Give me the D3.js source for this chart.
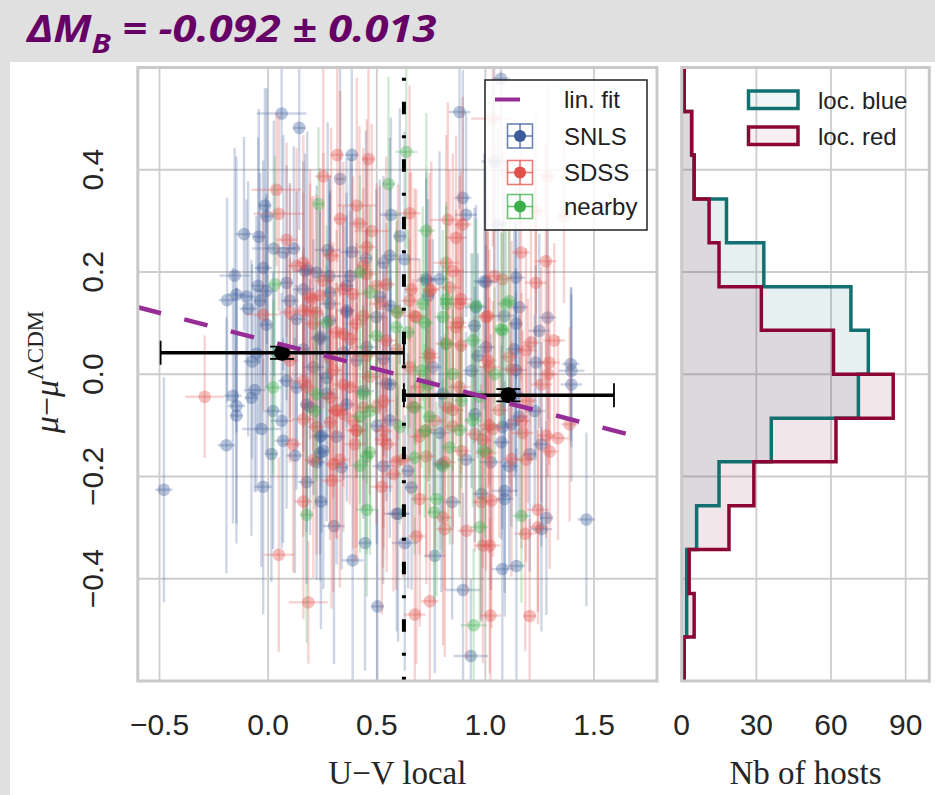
<!DOCTYPE html>
<html><head><meta charset="utf-8">
<script src="https://cdn.jsdelivr.net/npm/d3@7"></script>
<style>body{margin:0;background:#fff;} svg{display:block}</style>
</head><body><svg id="c" width="935" height="795"></svg>
<script>
// ---------------- DATA ----------------
const xTicks = [-0.5, 0.0, 0.5, 1.0, 1.5];
const yTicks = [-0.4, -0.2, 0.0, 0.2, 0.4];
const histTicks = [0, 30, 60, 90];
const seriesNames = ["SNLS", "SDSS", "nearby"];
// [U-V local, mu residual, x error, y error]
const snls = [
[0.062,0.510,0.115,0.15],[0.143,0.482,0.03,0.2],[0.385,0.429,0.03,0.19],[0.331,0.382,0.02,0.23],
[-0.015,0.330,0.03,0.23],[0.565,0.312,0.05,0.19],[-0.111,0.274,0.04,0.19],[-0.043,0.269,0.03,0.25],
[0.026,0.246,0.10,0.25],[0.118,0.246,0.03,0.2],[0.274,0.243,0.06,0.25],[0.385,0.239,0.05,0.19],
[-0.023,0.208,0.04,0.21],[-0.154,0.193,0.07,0.25],[0.180,0.205,0.04,0.27],[0.282,0.192,0.05,0.19],
[-0.189,0.145,0.04,0.2],[-0.146,0.156,0.04,0.27],[-0.100,0.152,0.04,0.19],[-0.046,0.173,0.03,0.29],
[-0.092,0.128,0.04,0.25],[-0.008,0.163,0.05,0.19],[-0.008,0.097,0.03,0.25],[-0.054,0.040,0.04,0.27],
[-0.074,0.025,0.04,0.19],[0.085,0.179,0.03,0.23],[0.223,0.199,0.04,0.17],[0.162,0.166,0.05,0.25],
[0.285,0.160,0.03,0.2],[0.377,0.192,0.06,0.23],[0.531,0.218,0.03,0.17],[0.131,0.108,0.04,0.25],
[0.362,0.121,0.03,0.19],[0.562,0.134,0.05,0.23],[0.238,0.069,0.04,0.25],[0.162,0.049,0.03,0.2],
[0.346,0.043,0.05,0.25],[0.531,0.030,0.03,0.19],[1.072,0.578,0.04,0.19],[0.881,0.513,0.05,0.19],
[1.041,0.416,0.06,0.23],[0.896,0.345,0.04,0.25],[0.911,0.312,0.05,0.2],[1.057,0.293,0.04,0.19],
[0.628,0.225,0.07,0.25],[0.728,0.187,0.04,0.21],[0.995,0.182,0.05,0.25],[0.736,0.153,0.03,0.19],
[1.087,0.114,0.05,0.25],[1.286,0.111,0.04,0.2],[0.950,0.095,0.03,0.23],[1.248,0.085,0.05,0.19],
[1.133,0.049,0.04,0.25],[0.965,0.036,0.03,0.2],[1.232,0.023,0.04,0.19],[1.393,0.020,0.04,0.15],
[0.606,0.270,0.03,0.25],[-0.162,-0.042,0.04,0.25],[-0.077,-0.046,0.03,0.27],[-0.062,-0.031,0.05,0.2],
[-0.146,-0.062,0.04,0.23],[-0.146,-0.081,0.03,0.25],[-0.031,-0.107,0.09,0.27],[-0.192,-0.139,0.04,0.25],
[0.085,-0.013,0.04,0.25],[0.131,-0.026,0.03,0.2],[0.023,-0.072,0.04,0.27],[0.062,-0.091,0.05,0.25],
[0.069,-0.130,0.04,0.2],[0.015,-0.156,0.03,0.25],[0.123,-0.159,0.04,0.23],[0.177,-0.059,0.03,0.25],
[0.246,-0.120,0.04,0.19],[0.254,-0.150,0.03,0.27],[0.223,-0.172,0.04,0.23],[0.338,-0.182,0.03,0.2],
[0.438,-0.033,0.05,0.25],[0.362,-0.059,0.04,0.19],[0.500,-0.101,0.03,0.23],[-0.023,-0.220,0.04,0.25],
[0.177,-0.211,0.04,0.2],[0.243,-0.249,0.03,0.25],[0.303,-0.297,0.05,0.27],[0.592,-0.273,0.06,0.23],
[0.446,-0.330,0.03,0.25],[0.389,-0.364,0.05,0.27],[0.503,-0.454,0.03,0.19],[-0.480,-0.226,0.04,0.22],
[0.562,-0.020,0.04,0.21],[0.269,-0.007,0.03,0.25],[1.396,0.007,0.06,0.15],[1.396,-0.020,0.05,0.19],
[1.258,-0.137,0.04,0.2],[1.465,-0.284,0.04,0.17],[1.281,-0.281,0.03,0.19],[1.258,-0.303,0.05,0.2],
[1.143,-0.375,0.04,0.23],[1.078,-0.381,0.05,0.25],[0.629,-0.330,0.06,0.25],[0.767,-0.355,0.05,0.23],
[0.897,-0.422,0.08,0.19],[0.933,-0.551,0.08,0.15],[0.598,-0.273,0.05,0.25],[0.847,-0.250,0.04,0.23],
[0.660,-0.221,0.03,0.2],[0.982,-0.234,0.04,0.25],[1.089,-0.228,0.06,0.2],[1.089,-0.244,0.04,0.23],
[1.025,-0.172,0.05,0.25],[0.644,-0.189,0.03,0.23],[1.074,-0.133,0.04,0.19],[1.204,-0.156,0.03,0.23],
[1.120,-0.098,0.04,0.2],[0.951,-0.078,0.03,0.25],[0.936,0.007,0.04,0.23],[1.227,-0.072,0.05,0.19],
[0.798,-0.176,0.04,0.25],[0.170,0.202,0.04,0.23],[0.361,0.173,0.03,0.25],[0.728,0.183,0.05,0.2],
[0.789,0.186,0.04,0.25],[1.003,0.180,0.05,0.23],[1.141,0.189,0.04,0.2],[0.284,0.138,0.05,0.25],
[0.514,0.151,0.03,0.23],[0.957,0.131,0.05,0.2],[1.156,0.131,0.04,0.25],[0.361,0.125,0.04,0.23],
[0.498,0.112,0.05,0.25],[1.141,0.099,0.03,0.2],[0.239,0.073,0.04,0.25],[0.453,0.053,0.05,0.23],
[1.003,0.053,0.04,0.2],[0.208,0.014,0.05,0.25],[0.407,0.027,0.03,0.23],[0.758,0.014,0.04,0.25],
[1.141,0.008,0.05,0.2],[0.269,-0.038,0.04,0.25],[0.544,-0.018,0.05,0.23],[0.804,-0.038,0.04,0.25],
[1.141,-0.038,0.03,0.2],[0.193,-0.064,0.04,0.25],[0.560,-0.090,0.05,0.23],[1.156,-0.083,0.04,0.2],
[0.315,-0.122,0.04,0.25],[0.789,-0.115,0.05,0.23],[1.079,-0.103,0.04,0.2],[0.239,-0.154,0.03,0.25],
[0.529,-0.180,0.05,0.23],[0.911,-0.167,0.04,0.25],[1.110,-0.180,0.04,0.2],
[-0.006,0.309,0.03,0.25],[0.070,0.238,0.04,0.23],[0.450,0.227,0.03,0.25],[0.560,0.232,0.04,0.23],
[-0.037,0.144,0.03,0.25],[0.100,0.144,0.04,0.23],[0.284,0.105,0.03,0.25],[0.239,-0.122,0.04,0.23]
];
const sdss = [
[0.318,0.429,0.03,0.21],[0.462,0.421,0.03,0.19],[0.254,0.387,0.04,0.25],[0.038,0.361,0.115,0.15],
[0.049,0.314,0.115,0.19],[0.408,0.330,0.09,0.25],[0.331,0.304,0.03,0.25],[0.420,0.295,0.04,0.19],
[0.085,0.263,0.05,0.19],[0.477,0.280,0.08,0.21],[0.454,0.249,0.04,0.25],[-0.023,0.117,0.08,0.19],
[0.131,0.212,0.04,0.23],[0.162,0.218,0.03,0.25],[0.200,0.147,0.04,0.2],[0.346,0.166,0.05,0.25],
[0.438,0.212,0.03,0.23],[0.500,0.173,0.04,0.2],[0.100,0.121,0.05,0.25],[0.223,0.121,0.03,0.23],
[0.438,0.114,0.04,0.25],[0.315,0.082,0.05,0.2],[0.377,0.069,0.04,0.25],[0.285,0.030,0.03,0.23],
[0.454,0.036,0.05,0.25],[0.100,0.027,0.04,0.2],[0.592,0.049,0.03,0.25],
[1.034,0.500,0.10,0.25],[1.286,0.387,0.04,0.19],[0.651,0.315,0.05,0.25],[0.827,0.302,0.08,0.23],
[0.896,0.293,0.04,0.25],[0.865,0.267,0.05,0.2],[1.362,0.309,0.04,0.17],[1.232,0.319,0.05,0.2],
[1.164,0.238,0.04,0.25],[1.278,0.221,0.05,0.23],[0.820,0.218,0.06,0.25],[1.041,0.192,0.04,0.25],
[1.232,0.179,0.05,0.2],[0.751,0.166,0.04,0.25],[0.659,0.166,0.03,0.23],[0.888,0.147,0.05,0.25],
[1.011,0.114,0.04,0.23],[0.674,0.114,0.05,0.25],[0.873,0.101,0.04,0.2],[1.317,0.066,0.05,0.19],
[1.210,0.062,0.04,0.23],[0.888,0.056,0.03,0.25],[0.743,0.033,0.05,0.23],[1.011,0.027,0.04,0.25],
[1.294,0.023,0.05,0.2],[0.598,0.121,0.04,0.25],
[-0.292,-0.044,0.09,0.12],[0.115,-0.137,0.04,0.25],[0.162,-0.088,0.05,0.23],[0.300,-0.176,0.04,0.25],
[0.400,-0.137,0.05,0.23],[0.392,-0.091,0.04,0.25],[0.346,-0.020,0.05,0.2],[0.315,-0.072,0.04,0.25],
[0.285,-0.094,0.03,0.23],[0.546,-0.137,0.05,0.25],[0.577,-0.195,0.04,0.23],[0.292,-0.208,0.05,0.25],
[0.162,-0.249,0.04,0.23],[0.523,-0.220,0.05,0.25],[0.049,-0.353,0.07,0.19],[0.185,-0.446,0.09,0.12],
[0.285,-0.046,0.04,0.25],[0.346,-0.078,0.05,0.23],[0.408,-0.111,0.04,0.25],[0.438,-0.065,0.03,0.2],
[0.531,-0.052,0.05,0.25],[0.531,-0.111,0.04,0.23],[0.162,-0.013,0.04,0.25],
[1.388,-0.098,0.04,0.19],[1.334,-0.125,0.05,0.2],[1.296,-0.151,0.04,0.23],[1.242,-0.265,0.05,0.2],
[1.242,-0.299,0.04,0.19],[1.184,-0.312,0.05,0.23],[1.020,-0.335,0.05,0.25],[0.989,-0.335,0.04,0.23],
[0.913,-0.306,0.04,0.25],[0.813,-0.303,0.04,0.25],[0.683,-0.317,0.04,0.25],[0.744,-0.444,0.04,0.23],
[0.675,-0.470,0.05,0.19],[1.023,-0.472,0.05,0.19],[1.204,-0.473,0.03,0.19],[0.805,-0.280,0.04,0.25],
[0.698,-0.244,0.04,0.25],[1.028,-0.247,0.04,0.25],[0.813,-0.172,0.05,0.25],[0.951,-0.117,0.04,0.23],
[1.035,-0.107,0.05,0.25],[1.120,-0.166,0.04,0.23],[1.166,-0.091,0.04,0.25],[0.767,-0.091,0.05,0.25],
[0.828,-0.065,0.04,0.23],[1.196,-0.052,0.04,0.2],[1.258,-0.020,0.05,0.23],[1.288,0.000,0.04,0.2],
[1.120,0.010,0.05,0.25],[0.890,-0.150,0.04,0.25],
[0.254,0.183,0.04,0.25],[0.453,0.196,0.05,0.23],[0.544,0.176,0.04,0.25],[0.850,0.202,0.05,0.23],
[1.079,0.186,0.04,0.25],[0.193,0.151,0.04,0.25],[0.391,0.157,0.05,0.23],[0.651,0.144,0.04,0.25],
[0.743,0.164,0.03,0.23],[0.881,0.138,0.05,0.25],[0.162,0.125,0.04,0.23],[0.208,0.099,0.04,0.25],
[0.407,0.099,0.05,0.23],[0.682,0.112,0.04,0.25],[0.865,0.092,0.05,0.23],[1.003,0.112,0.04,0.25],
[0.346,0.079,0.04,0.25],[0.544,0.066,0.05,0.23],[0.743,0.040,0.04,0.25],[0.820,0.060,0.05,0.23],
[1.110,0.034,0.04,0.25],[1.187,0.047,0.05,0.2],[0.300,0.008,0.04,0.25],[0.468,-0.005,0.05,0.23],
[0.651,0.014,0.04,0.25],[1.018,0.014,0.05,0.23],[0.177,-0.025,0.04,0.25],[0.376,-0.025,0.05,0.23],
[0.697,-0.025,0.04,0.25],[0.881,-0.025,0.05,0.23],[0.315,-0.070,0.04,0.25],[0.498,-0.064,0.05,0.23],
[0.667,-0.064,0.04,0.25],[0.850,-0.070,0.05,0.23],[1.064,-0.070,0.04,0.25],[0.223,-0.103,0.04,0.25],
[0.407,-0.109,0.05,0.23],[0.529,-0.128,0.04,0.25],[0.697,-0.122,0.05,0.23],[0.988,-0.128,0.04,0.25],
[1.171,-0.115,0.05,0.2],[0.330,-0.167,0.04,0.25],[0.621,-0.167,0.05,0.23],[0.728,-0.161,0.04,0.25],
[1.003,-0.154,0.05,0.23],[1.187,-0.167,0.04,0.2],
[0.290,0.232,0.04,0.25],[0.835,0.170,0.05,0.23],[0.239,0.154,0.04,0.25],[0.514,0.138,0.05,0.23],
[0.193,0.123,0.04,0.25],[0.980,-0.250,0.04,0.23],[0.728,-0.109,0.05,0.25],[0.850,-0.102,0.04,0.23],
[1.018,-0.100,0.05,0.25],[0.208,-0.168,0.04,0.23],[0.590,-0.171,0.05,0.25],[1.280,-0.120,0.04,0.2]
];
const nearby = [
[0.554,0.372,0.03,0.21],[0.232,0.333,0.02,0.15],[0.031,0.176,0.03,0.25],[0.423,0.199,0.03,0.19],
[0.469,0.160,0.04,0.17],[0.269,0.101,0.03,0.19],[0.500,0.075,0.04,0.17],[0.592,0.121,0.03,0.2],
[0.636,0.435,0.05,0.19],[0.728,0.281,0.04,0.23],[0.820,0.147,0.03,0.19],[0.957,0.134,0.04,0.17],
[1.110,0.143,0.03,0.19],[0.720,0.101,0.04,0.17],[1.072,0.088,0.03,0.19],[0.820,0.059,0.04,0.17],
[0.644,0.082,0.03,0.2],[0.023,-0.026,0.04,0.17],[0.215,-0.072,0.03,0.19],[0.423,-0.179,0.04,0.17],
[0.469,-0.153,0.03,0.2],[0.177,-0.275,0.03,0.25],[0.454,-0.265,0.05,0.17],[0.469,-0.072,0.03,0.19],
[0.223,-0.039,0.04,0.17],[1.166,-0.277,0.04,0.17],[0.974,-0.299,0.04,0.19],[0.946,-0.491,0.06,0.15],
[0.775,-0.244,0.04,0.19],[0.764,-0.270,0.03,0.17],[0.836,-0.143,0.04,0.19],[0.721,-0.111,0.03,0.17],
[0.675,-0.065,0.04,0.19],[0.890,-0.052,0.03,0.17],[0.736,-0.020,0.04,0.19],[1.043,0.000,0.03,0.17],
[0.706,0.007,0.04,0.19],[0.997,-0.150,0.04,0.17],[0.675,-0.163,0.03,0.19],[0.820,0.138,0.03,0.19],
[1.095,0.138,0.04,0.17],[0.590,0.092,0.03,0.19],[0.804,0.112,0.04,0.17],[1.079,0.086,0.03,0.19],
[0.942,0.066,0.04,0.17],[0.850,0.001,0.03,0.19],[0.437,-0.038,0.04,0.17],[0.972,-0.044,0.03,0.19],
[0.422,-0.083,0.04,0.17],[0.743,-0.083,0.03,0.19],[0.942,-0.090,0.04,0.17],[0.606,-0.103,0.03,0.19],
[0.881,-0.109,0.04,0.17],[0.453,-0.161,0.03,0.19],[0.804,-0.180,0.04,0.17],[0.712,0.138,0.03,0.19]
];
// binned means (local blue / local red)
const binX = [0.064, 1.106];
const binY = [0.042, -0.041];
const binXlo = [-0.495, 0.625];
const binXhi = [0.625, 1.592];
const binYerr = [0.012, 0.012];
const colorCut = 0.625;
// linear fit
const fitSlope = -0.11, fitIntercept = 0.065, fitRange = [-0.6, 1.69];
// histograms (bin edges bottom -> top)
const histEdges = [-0.6,-0.514,-0.429,-0.343,-0.257,-0.171,-0.086,0,0.086,0.171,0.257,0.343,0.429,0.514,0.6];
const blueCounts = [1,2,2,6,15,36,71,75,68,33,18,5,4,1];
const redCounts  = [1,5,3,19,29,62,85,61,32,15,11,5,4,1];
const histNames = ["loc. blue", "loc. red"];
const titleMain = "ΔM", titleSub = "B", titleRest = " = -0.092 ± 0.013";

// ---------------- DRAW ----------------
const svg = d3.select("#c");
const M = {l:137.8, r:657, t:67.5, b:681};
const H = {l:681.7, r:929.3};
const x = d3.scaleLinear().domain([-0.6, 1.79]).range([M.l, M.r]);
const y = d3.scaleLinear().domain([-0.6, 0.6]).range([M.b, M.t]);
const hx = d3.scaleLinear().domain([0, 99.5]).range([H.l, H.r]);
const colors = {SNLS:"#3b5b99", SDSS:"#e0504a", nearby:"#3bb04a"};
const tickFont = "'Liberation Sans', Arial, sans-serif";
const serif = "'Liberation Serif', 'DejaVu Serif', serif";
const gridC = "#cdcdcd", frameC = "#c9c9c9";

svg.append("rect").attr("width",935).attr("height",795).attr("fill","#e0e0e0");
svg.append("rect").attr("x",10).attr("y",62).attr("width",925).attr("height",733).attr("fill","#fff");

// title
const tt = svg.append("text").attr("transform","translate(27,42) scale(1.16,1)")
  .attr("font-family","'Open Sans', Lato, sans-serif").attr("font-weight",700).attr("font-style","italic")
  .attr("font-size",37.5).attr("fill","#660066");
tt.append("tspan").text(titleMain);
tt.append("tspan").attr("font-size",27).attr("dy",11).text(titleSub);
tt.append("tspan").attr("dy",-11).text(titleRest);

// grids main
const gMain = svg.append("g");
gMain.selectAll(".vg").data(xTicks).join("line")
  .attr("x1",d=>x(d)).attr("x2",d=>x(d)).attr("y1",M.t).attr("y2",M.b)
  .attr("stroke",gridC).attr("stroke-width",1.8);
gMain.selectAll(".hg").data(yTicks).join("line")
  .attr("x1",M.l).attr("x2",M.r).attr("y1",d=>y(d)).attr("y2",d=>y(d))
  .attr("stroke",gridC).attr("stroke-width",1.8);

// clip
svg.append("clipPath").attr("id","clipM").append("rect")
  .attr("x",M.l).attr("y",M.t).attr("width",M.r-M.l).attr("height",M.b-M.t);
svg.append("clipPath").attr("id","clipH").append("rect")
  .attr("x",H.l).attr("y",M.t).attr("width",H.r-H.l).attr("height",M.b-M.t);

const scat = svg.append("g").attr("clip-path","url(#clipM)");
function drawSeries(data, col){
  const g = scat.append("g");
  g.selectAll(".ex").data(data).join("line")
    .attr("x1",d=>x(d[0]-d[2])).attr("x2",d=>x(d[0]+d[2]))
    .attr("y1",d=>y(d[1])).attr("y2",d=>y(d[1]))
    .attr("stroke",col).attr("stroke-width",2.4).attr("stroke-opacity",0.25);
  g.selectAll(".ey").data(data).join("line")
    .attr("x1",d=>x(d[0])).attr("x2",d=>x(d[0]))
    .attr("y1",d=>y(d[1]-d[3])).attr("y2",d=>y(d[1]+d[3]))
    .attr("stroke",col).attr("stroke-width",2.4).attr("stroke-opacity",0.25);
  g.selectAll("circle").data(data).join("circle")
    .attr("cx",d=>x(d[0])).attr("cy",d=>y(d[1])).attr("r",6.3)
    .attr("fill",col).attr("fill-opacity",0.36);
}
drawSeries(snls, colors.SNLS);
drawSeries(sdss, colors.SDSS);
drawSeries(nearby, colors.nearby);

// cut line
scat.append("line").attr("x1",x(colorCut)).attr("x2",x(colorCut)).attr("y1",M.t).attr("y2",M.b)
  .attr("stroke","#000").attr("stroke-width",4).attr("stroke-dasharray","3,21,12.5,21")
  .attr("stroke-dashoffset",47.3);

// binned error bars
const bg = scat.append("g");
binX.forEach((bx,i)=>{
  bg.append("line").attr("x1",x(binXlo[i])).attr("x2",x(binXhi[i])).attr("y1",y(binY[i])).attr("y2",y(binY[i]))
    .attr("stroke","#000").attr("stroke-width",3.5);
  [binXlo[i], binXhi[i]].forEach(e=>{
    bg.append("line").attr("x1",x(e)).attr("x2",x(e)).attr("y1",y(binY[i])-12).attr("y2",y(binY[i])+12)
      .attr("stroke","#000").attr("stroke-width",1.8);
  });
  bg.append("line").attr("x1",x(bx)).attr("x2",x(bx)).attr("y1",y(binY[i]-binYerr[i])).attr("y2",y(binY[i]+binYerr[i]))
    .attr("stroke","#000").attr("stroke-width",2);
  [binY[i]-binYerr[i], binY[i]+binYerr[i]].forEach(e=>{
    bg.append("line").attr("x1",x(bx)-12).attr("x2",x(bx)+12).attr("y1",y(e)).attr("y2",y(e))
      .attr("stroke","#000").attr("stroke-width",1.8);
  });
});
// fit line
scat.append("line").attr("x1",x(fitRange[0])).attr("x2",x(fitRange[1]))
  .attr("y1",y(fitIntercept+fitSlope*fitRange[0])).attr("y2",y(fitIntercept+fitSlope*fitRange[1]))
  .attr("stroke","#962d96").attr("stroke-width",4.5).attr("stroke-dasharray","24,24");
binX.forEach((bx,i)=>{
  bg.append("circle").attr("cx",x(bx)).attr("cy",y(binY[i])).attr("r",8).attr("fill","#000");
});

// main frame
svg.append("rect").attr("x",M.l).attr("y",M.t).attr("width",M.r-M.l).attr("height",M.b-M.t)
  .attr("fill","none").attr("stroke",frameC).attr("stroke-width",3);

// legend main
const lg = svg.append("g");
lg.append("rect").attr("x",485).attr("y",80).attr("width",162).attr("height",150)
  .attr("fill","#fff").attr("fill-opacity",0.85).attr("stroke","#222").attr("stroke-width",1.5);
lg.append("line").attr("x1",495).attr("x2",520).attr("y1",99.5).attr("y2",99.5)
  .attr("stroke","#962d96").attr("stroke-width",4);
lg.append("text").attr("x",564).attr("y",108).attr("font-family",tickFont).attr("font-size",24)
  .attr("fill","#222").text("lin. fit");
const lrows = [136, 172.5, 206.5];
seriesNames.forEach((n,i)=>{
  const cy = lrows[i], cx = 520, c = colors[n];
  const s = lg.append("g").attr("stroke",c).attr("stroke-opacity",0.75).attr("stroke-width",1.6);
  s.append("line").attr("x1",cx-12.5).attr("x2",cx+12.5).attr("y1",cy).attr("y2",cy);
  s.append("line").attr("x1",cx).attr("x2",cx).attr("y1",cy-12).attr("y2",cy+12);
  s.append("rect").attr("x",cx-12.5).attr("y",cy-12).attr("width",25).attr("height",24).attr("fill","none");
  lg.append("circle").attr("cx",cx).attr("cy",cy).attr("r",6).attr("fill",c);
  lg.append("text").attr("x",564).attr("y",cy+8.5).attr("font-family",tickFont).attr("font-size",24)
    .attr("fill","#222").text(n);
});

// histogram grid
const gH = svg.append("g");
gH.selectAll(".vg").data(histTicks.filter(d=>d>0)).join("line")
  .attr("x1",d=>hx(d)).attr("x2",d=>hx(d)).attr("y1",M.t).attr("y2",M.b)
  .attr("stroke",gridC).attr("stroke-width",1.8);
gH.selectAll(".hg").data(yTicks).join("line")
  .attr("x1",H.l).attr("x2",H.r).attr("y1",d=>y(d)).attr("y2",d=>y(d))
  .attr("stroke",gridC).attr("stroke-width",1.8);

function stepPts(counts){
  const pts = [[0, histEdges[0]]];
  counts.forEach((c,i)=>{ pts.push([c, histEdges[i]]); pts.push([c, histEdges[i+1]]); });
  pts.push([0, histEdges[histEdges.length-1]]);
  return pts;
}
const stepLine = d3.line().x(d=>hx(d[0])).y(d=>y(d[1]));
const hg = svg.append("g").attr("clip-path","url(#clipH)");
const histCols = ["#127070", "#8c0535"];
[blueCounts, redCounts].forEach((cts,i)=>{
  hg.append("path").attr("d",stepLine(stepPts(cts))+"Z").attr("fill",histCols[i]).attr("fill-opacity",0.1).attr("stroke","none");
});
[blueCounts, redCounts].forEach((cts,i)=>{
  hg.append("path").attr("d",stepLine(stepPts(cts))).attr("fill","none").attr("stroke",histCols[i])
    .attr("stroke-width",3.5).attr("stroke-linejoin","miter");
});
svg.append("rect").attr("x",H.l).attr("y",M.t).attr("width",H.r-H.l).attr("height",M.b-M.t)
  .attr("fill","none").attr("stroke",frameC).attr("stroke-width",3);

// hist legend
histNames.forEach((n,i)=>{
  const yy = 91 + i*36;
  svg.append("rect").attr("x",748.5).attr("y",yy).attr("width",49.5).attr("height",17.5)
    .attr("fill",histCols[i]).attr("fill-opacity",0.06).attr("stroke",histCols[i]).attr("stroke-width",3.5);
  svg.append("text").attr("x",818).attr("y",yy+17.5).attr("font-family",tickFont).attr("font-size",24)
    .attr("fill","#222").text(n);
});

// tick labels
const fmt = d3.format(".1f");
svg.append("g").selectAll("text").data(xTicks).join("text")
  .attr("x",d=>x(d)).attr("y",735).attr("text-anchor","middle")
  .attr("font-family",tickFont).attr("font-size",30).attr("fill","#262626")
  .text(d=>fmt(d).replace("-","\u2212"));
svg.append("g").selectAll("text").data(yTicks).join("text")
  .attr("transform",d=>`translate(103,${y(d)}) rotate(-90)`).attr("text-anchor","middle")
  .attr("font-family",tickFont).attr("font-size",30).attr("fill","#262626")
  .text(d=>fmt(d).replace("-","\u2212"));
svg.append("g").selectAll("text").data(histTicks).join("text")
  .attr("x",d=>hx(d)).attr("y",735).attr("text-anchor","middle")
  .attr("font-family",tickFont).attr("font-size",30).attr("fill","#262626")
  .text(d=>d);

// axis labels
svg.append("text").attr("x",(M.l+M.r)/2).attr("y",784).attr("text-anchor","middle")
  .attr("font-family",serif).attr("font-size",33).attr("fill","#262626").text("U\u2212V local");
svg.append("text").attr("x",(H.l+H.r)/2).attr("y",784).attr("text-anchor","middle")
  .attr("font-family",serif).attr("font-size",33).attr("fill","#262626").text("Nb of hosts");
const yl = svg.append("text").attr("transform","translate(58,372) rotate(-90)").attr("text-anchor","middle")
  .attr("font-family",serif).attr("font-size",34).attr("fill","#262626");
yl.append("tspan").attr("font-style","italic").text("μ");
yl.append("tspan").text("\u2212");
yl.append("tspan").attr("font-style","italic").text("μ");
yl.append("tspan").attr("font-size",23).attr("dy",-15).text("ΛCDM");
</script></body></html>
